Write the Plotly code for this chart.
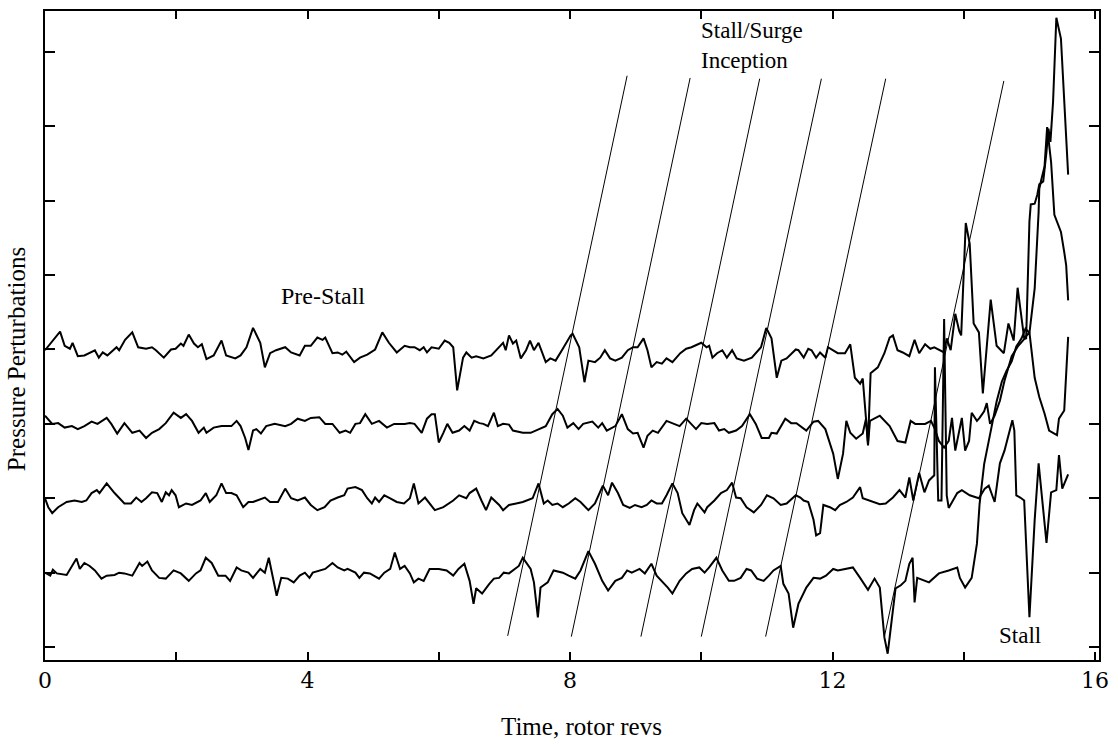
import plotly.graph_objects as go

# Pressure perturbation traces from four circumferential probes.
# Time in rotor revolutions, perturbation relative to each probe's baseline.
t_ch1 = [0.00,0.23,0.30,0.38,0.42,0.50,0.60,0.68,0.76,0.82,
         0.88,0.95,1.09,1.13,1.22,1.33,1.42,1.54,1.63,1.69,
         1.81,1.92,1.99,2.07,2.11,2.19,2.27,2.33,2.39,2.46,
         2.57,2.69,2.76,2.90,2.98,3.07,3.17,3.28,3.35,3.43,
         3.52,3.66,3.75,3.88,3.96,4.05,4.15,4.23,4.27,4.38,
         4.46,4.53,4.59,4.71,4.80,4.91,5.03,5.14,5.24,5.36,
         5.48,5.56,5.63,5.71,5.77,5.82,5.89,6.00,6.09,6.16,
         6.22,6.28,6.37,6.42,6.50,6.57,6.68,6.80,6.90,6.98,
         7.02,7.07,7.13,7.18,7.25,7.33,7.39,7.45,7.52,7.63,
         7.70,7.78,7.89,8.01,8.04,8.14,8.22,8.28,8.38,8.46,
         8.53,8.61,8.69,8.79,8.88,8.96,9.03,9.12,9.18,9.24,
         9.32,9.40,9.47,9.56,9.68,9.77,9.85,9.94,10.00,10.08,
         10.12,10.17,10.24,10.32,10.39,10.47,10.54,10.65,10.77,10.91,
         10.99,11.07,11.15,11.22,11.30,11.44,11.48,11.56,11.63,11.68,
         11.75,11.81,11.89,11.93,12.08,12.19,12.27,12.34,12.42,12.46,
         12.54,12.58,12.69,12.79,12.87,12.92,12.99,13.07,13.17,13.25,
         13.32,13.41,13.49,13.55,13.62,13.70,13.74,13.80,13.87,13.93,
         13.96,14.03,14.09,14.15,14.23,14.29,14.41,14.50,14.61,14.68,
         14.76,14.82,14.92,15.00,15.08,15.15,15.23,15.30,15.36,15.42,
         15.45,15.53,15.59]
p_ch1 = [-0.01,0.24,0.05,0.01,0.09,-0.09,-0.08,-0.04,-0.01,-0.11,
         -0.04,-0.08,0.03,-0.01,0.13,0.23,0.03,0.01,0.03,-0.01,
         -0.11,0.00,0.01,0.08,0.05,0.20,0.08,0.03,0.07,-0.13,
         -0.08,0.12,-0.08,-0.12,-0.08,0.03,0.29,0.09,-0.24,-0.05,
         -0.01,0.03,-0.04,-0.08,0.05,0.05,0.16,0.13,0.16,-0.05,
         -0.04,-0.07,-0.03,-0.17,-0.11,-0.07,0.00,0.23,0.09,-0.04,
         0.05,0.03,0.03,-0.01,0.03,-0.04,0.03,0.01,0.12,0.09,
         0.03,-0.55,-0.11,-0.04,-0.11,-0.09,-0.12,-0.08,0.01,0.09,
         -0.01,0.19,0.08,0.12,-0.12,-0.01,0.12,-0.01,0.09,-0.17,
         -0.12,-0.15,0.01,0.19,0.21,0.03,-0.44,-0.15,-0.17,-0.11,
         -0.01,-0.12,-0.15,-0.11,-0.01,0.03,0.03,0.15,-0.01,-0.24,
         -0.17,-0.19,-0.12,-0.17,-0.05,0.01,0.03,0.07,0.09,0.03,
         0.05,-0.11,-0.05,-0.01,-0.11,-0.01,-0.12,-0.15,-0.11,0.03,
         0.29,0.15,-0.38,-0.15,-0.12,0.00,-0.01,-0.11,0.01,-0.01,
         -0.11,-0.04,-0.11,0.03,-0.05,-0.05,0.07,-0.38,-0.46,-0.39,
         -1.26,-0.32,-0.24,-0.05,0.16,0.19,-0.01,-0.04,-0.09,0.13,
         -0.05,0.07,0.01,0.03,0.00,-0.04,0.15,-0.01,0.48,0.25,
         0.19,1.70,1.42,0.35,0.23,-0.59,0.67,0.05,-0.05,0.35,
         0.12,0.83,0.15,0.23,-0.38,-0.64,-0.86,-1.09,-1.12,-1.15,
         -0.93,-0.82,0.17]

t_ch2 = [0.00,0.11,0.20,0.30,0.41,0.50,0.60,0.71,0.80,0.94,
         1.01,1.10,1.21,1.33,1.44,1.54,1.63,1.74,1.84,1.96,
         2.07,2.15,2.24,2.34,2.42,2.46,2.57,2.69,2.84,2.92,
         2.98,3.05,3.10,3.17,3.22,3.29,3.37,3.50,3.66,3.75,
         3.85,3.96,4.05,4.18,4.27,4.38,4.49,4.58,4.65,4.73,
         4.80,4.88,4.98,5.09,5.21,5.32,5.48,5.56,5.63,5.74,
         5.82,5.89,5.94,6.00,6.07,6.13,6.21,6.31,6.39,6.47,
         6.54,6.62,6.68,6.75,6.84,6.90,6.98,7.07,7.13,7.28,
         7.40,7.52,7.63,7.73,7.81,7.89,7.96,8.05,8.13,8.20,
         8.34,8.43,8.49,8.56,8.69,8.79,8.88,8.96,9.03,9.12,
         9.18,9.26,9.34,9.47,9.56,9.67,9.77,9.85,9.92,10.00,
         10.09,10.20,10.27,10.35,10.42,10.53,10.62,10.74,10.83,10.92,
         11.03,11.07,11.15,11.28,11.37,11.45,11.60,11.71,11.78,11.89,
         12.01,12.08,12.16,12.21,12.27,12.36,12.46,12.51,12.54,12.57,
         12.72,12.87,12.99,13.11,13.19,13.26,13.41,13.50,13.56,13.62,
         13.70,13.77,13.82,13.87,13.93,13.97,14.02,14.08,14.12,14.20,
         14.24,14.31,14.35,14.40,14.47,14.55,14.62,14.73,14.83,14.92,
         14.95,14.97,15.00,15.02,15.08,15.12,15.15,15.21,15.23,15.26,
         15.29,15.32,15.36,15.41,15.48,15.59]
p_ch2 = [0.11,0.00,0.01,-0.05,-0.03,-0.07,-0.03,0.03,0.00,0.08,
         0.00,-0.13,0.01,-0.12,-0.09,-0.19,-0.12,-0.07,0.01,0.15,
         0.08,0.13,0.04,-0.12,-0.05,-0.12,-0.05,-0.03,-0.03,0.04,
         -0.03,-0.19,-0.35,-0.09,-0.07,-0.13,-0.03,0.00,-0.03,0.00,
         0.07,0.04,0.08,0.09,0.00,0.00,-0.12,-0.09,-0.12,0.00,
         0.01,0.13,0.00,0.04,-0.05,0.00,0.00,0.01,0.00,-0.12,
         0.07,0.13,0.13,-0.25,-0.12,0.00,-0.12,-0.09,-0.03,-0.09,
         0.04,0.01,0.00,-0.03,0.15,-0.03,0.00,-0.01,-0.09,-0.12,
         -0.12,-0.07,-0.03,0.13,0.20,0.11,-0.05,0.01,-0.07,0.00,
         0.03,-0.05,0.01,-0.09,-0.03,0.13,-0.07,-0.13,-0.12,-0.32,
         -0.16,-0.09,-0.12,0.04,0.01,-0.03,0.07,0.00,-0.07,0.01,
         0.00,0.01,-0.09,-0.07,-0.12,-0.09,-0.03,0.13,0.00,-0.19,
         -0.19,-0.12,-0.13,0.07,0.01,0.01,-0.09,0.03,0.04,-0.07,
         -0.40,-0.74,-0.40,0.04,-0.12,-0.20,-0.13,0.07,-0.29,0.04,
         0.11,-0.03,-0.23,-0.25,0.04,0.00,0.00,0.04,-0.07,-0.23,
         -0.32,-0.23,0.08,-0.36,-0.09,0.08,-0.36,-0.23,0.15,0.04,
         0.08,0.17,0.28,0.00,0.11,0.31,0.58,0.91,1.05,1.14,
         1.15,1.88,2.72,2.95,2.96,3.08,3.22,3.26,3.39,3.66,
         3.97,3.79,4.33,5.46,5.18,3.35]

t_ch3 = [0.00,0.05,0.11,0.20,0.33,0.45,0.56,0.63,0.71,0.79,
         0.83,0.94,1.06,1.21,1.31,1.39,1.47,1.54,1.63,1.71,
         1.78,1.84,1.89,1.93,1.99,2.04,2.15,2.24,2.37,2.45,
         2.51,2.61,2.69,2.76,2.84,2.92,3.02,3.10,3.17,3.35,
         3.43,3.55,3.66,3.75,3.85,3.96,4.05,4.15,4.26,4.35,
         4.46,4.56,4.61,4.73,4.83,4.91,4.98,5.03,5.09,5.17,
         5.26,5.36,5.47,5.56,5.62,5.69,5.79,5.86,5.94,6.07,
         6.22,6.31,6.42,6.47,6.57,6.65,6.72,6.80,6.92,6.98,
         7.07,7.18,7.28,7.43,7.52,7.60,7.66,7.73,7.81,7.89,
         7.98,8.08,8.16,8.28,8.38,8.50,8.58,8.64,8.73,8.81,
         8.91,8.99,9.09,9.17,9.24,9.32,9.40,9.47,9.56,9.64,
         9.71,9.82,9.89,9.94,10.05,10.09,10.20,10.30,10.39,10.47,
         10.53,10.60,10.69,10.80,10.91,11.00,11.10,11.21,11.30,11.44,
         11.51,11.56,11.63,11.71,11.75,11.81,11.86,11.96,12.04,12.11,
         12.21,12.31,12.42,12.46,12.57,12.72,12.81,12.92,13.02,13.11,
         13.17,13.23,13.32,13.40,13.47,13.55,13.56,13.61,13.66,13.70,
         13.74,13.77,13.90,13.97,14.09,14.23,14.32,14.38,14.47,14.55,
         14.62,14.70,14.74,14.77,14.80,14.86,14.92,15.00,15.08,15.14,
         15.20,15.26,15.33,15.41,15.45,15.50,15.59]
p_ch3 = [0.00,-0.12,-0.20,-0.12,-0.05,-0.03,-0.05,-0.03,0.07,0.11,
         0.07,0.20,0.07,-0.07,-0.07,0.01,-0.05,0.00,0.08,0.07,
         -0.05,0.08,0.04,0.11,0.04,-0.12,-0.07,-0.09,-0.03,0.07,
         -0.05,0.04,0.20,0.07,0.07,0.04,-0.12,-0.05,-0.05,0.01,
         -0.05,-0.05,0.13,0.00,-0.03,0.01,-0.09,-0.16,-0.12,-0.03,
         0.01,0.04,0.13,0.15,0.11,0.00,-0.07,0.01,-0.05,0.04,
         0.00,-0.05,-0.07,0.00,0.20,-0.07,0.01,-0.07,-0.16,-0.12,
         -0.03,0.04,0.00,0.07,0.13,-0.03,-0.16,0.01,-0.09,-0.16,
         -0.09,-0.07,-0.05,0.00,0.20,-0.07,-0.03,-0.09,-0.07,-0.12,
         -0.07,0.00,-0.05,-0.16,-0.07,0.17,0.04,0.21,0.07,-0.09,
         -0.13,-0.09,-0.12,-0.09,-0.03,-0.07,-0.07,0.04,0.20,0.07,
         -0.20,-0.36,-0.16,-0.07,-0.19,-0.12,-0.03,0.07,0.11,0.21,
         0.01,0.00,-0.12,-0.19,-0.09,0.04,0.00,-0.09,-0.07,0.04,
         0.01,-0.03,-0.05,-0.29,-0.50,-0.47,-0.09,-0.12,-0.16,-0.09,
         -0.05,0.01,0.15,0.00,-0.03,-0.08,-0.07,0.01,0.11,0.01,
         0.28,-0.03,0.34,0.08,0.24,0.31,1.76,-0.03,-0.03,2.41,
         0.04,-0.13,0.07,0.11,0.04,0.00,0.13,0.17,-0.05,0.47,
         0.64,0.91,1.05,0.91,0.04,0.01,-0.03,-1.60,-0.29,0.47,
         -0.03,-0.60,0.08,0.11,0.58,0.13,0.32]

t_ch4 = [0.00,0.08,0.12,0.18,0.33,0.41,0.48,0.53,0.60,0.68,
         0.76,0.86,0.94,1.06,1.13,1.21,1.33,1.44,1.48,1.56,
         1.63,1.74,1.84,1.96,2.07,2.19,2.30,2.37,2.45,2.54,
         2.64,2.75,2.82,2.92,2.99,3.10,3.17,3.28,3.35,3.41,
         3.47,3.53,3.60,3.70,3.79,3.88,3.96,4.03,4.08,4.18,
         4.27,4.38,4.46,4.56,4.61,4.73,4.79,4.86,4.95,5.09,
         5.17,5.26,5.33,5.41,5.48,5.56,5.62,5.69,5.77,5.86,
         6.00,6.12,6.22,6.30,6.39,6.47,6.53,6.57,6.66,6.77,
         6.84,6.92,6.99,7.07,7.15,7.22,7.28,7.33,7.40,7.45,
         7.51,7.55,7.66,7.75,7.89,7.98,8.08,8.16,8.28,8.38,
         8.49,8.58,8.69,8.79,8.87,8.94,9.06,9.14,9.24,9.32,
         9.40,9.49,9.56,9.67,9.77,9.86,9.97,10.05,10.12,10.23,
         10.32,10.42,10.50,10.60,10.69,10.76,10.85,10.95,11.03,11.10,
         11.21,11.25,11.33,11.40,11.48,11.60,11.71,11.81,11.90,12.01,
         12.08,12.31,12.42,12.54,12.64,12.72,12.79,12.84,12.87,12.92,
         12.96,13.04,13.11,13.17,13.22,13.25,13.29,13.47,13.62,13.77,
         13.90,13.94,14.02,14.12,14.20,14.24,14.31,14.43,14.50,14.58,
         14.65,14.73,14.80,14.88,14.94,15.00,15.08,15.14,15.15,15.18,
         15.23,15.27,15.30,15.33,15.38,15.48,15.53,15.56,15.59]
p_ch4 = [0.00,-0.04,0.04,-0.01,-0.03,0.09,0.19,0.05,0.13,0.09,
         0.03,-0.08,-0.04,-0.03,0.00,-0.01,-0.04,0.13,0.09,0.15,
         0.03,-0.07,-0.08,0.03,-0.01,-0.11,-0.01,0.03,0.20,0.13,
         -0.04,-0.04,-0.11,0.07,0.03,0.00,-0.07,0.05,0.00,0.20,
         -0.07,-0.31,-0.07,-0.08,-0.13,-0.04,0.00,-0.07,0.00,0.03,
         0.05,0.13,0.07,0.03,0.05,0.00,-0.07,0.00,-0.01,-0.08,
         0.00,0.05,0.27,0.05,0.09,-0.01,-0.13,-0.08,-0.11,0.05,
         0.05,0.03,-0.04,0.05,0.12,-0.11,-0.42,-0.21,-0.28,-0.15,
         -0.08,-0.07,0.00,-0.01,0.05,0.09,0.20,0.13,0.05,-0.13,
         -0.60,-0.20,-0.13,0.03,0.00,-0.04,-0.08,0.03,0.29,0.12,
         -0.11,-0.24,-0.11,-0.07,0.03,0.00,0.05,-0.01,0.12,-0.04,
         -0.11,-0.20,-0.28,-0.11,-0.01,0.05,0.07,0.00,0.07,0.20,
         0.03,-0.11,-0.11,-0.07,0.05,0.03,-0.08,-0.11,-0.04,0.03,
         0.09,-0.15,-0.28,-0.74,-0.42,-0.20,-0.07,-0.08,-0.04,0.05,
         0.03,0.07,-0.07,-0.23,-0.08,-0.20,-0.87,-1.09,-0.87,-0.47,
         -0.21,-0.17,-0.11,0.12,0.20,-0.40,-0.07,-0.13,-0.01,0.03,
         0.07,-0.07,-0.20,-0.07,0.39,0.92,1.46,1.99,2.30,2.57,
         2.71,2.84,3.04,3.15,3.28,3.22,3.82,4.85,5.16,5.28,
         5.46,5.99,5.70,5.52,4.81,4.58,4.31,4.13,3.66]

# Vertical stacking offset of each probe trace
offsets = [4, 3, 2, 1]

# Disturbance propagation lines (stall/surge inception)
front_t_start = [7.05, 8.02, 9.08, 10.00, 10.98, 12.79]
front_t_end = [8.87, 9.83, 10.89, 11.83, 12.81, 14.61]
front_y_start = [0.15, 0.14, 0.14, 0.14, 0.14, 0.14]
front_y_end = [7.68, 7.65, 7.64, 7.64, 7.64, 7.61]

x_ticks = [0, 2, 4, 6, 8, 10, 12, 14, 16]
x_tick_text = ["0", "", "4", "", "8", "", "12", "", "16"]
y_ticks = [0, 1, 2, 3, 4, 5, 6, 7, 8]

channels = [(t_ch1, p_ch1), (t_ch2, p_ch2), (t_ch3, p_ch3), (t_ch4, p_ch4)]

fig = go.Figure()

for (t, p), off in zip(channels, offsets):
    assert len(t) == len(p)
    fig.add_trace(go.Scatter(
        x=t, y=[off + v for v in p], mode="lines",
        line=dict(color="black", width=2), hoverinfo="skip"))

fx, fy = [], []
for t0, t1, y0, y1 in zip(front_t_start, front_t_end, front_y_start, front_y_end):
    fx += [t0, t1, None]
    fy += [y0, y1, None]
fig.add_trace(go.Scatter(x=fx, y=fy, mode="lines",
                         line=dict(color="black", width=1), hoverinfo="skip"))

SERIF = "Liberation Serif"


def label_font(size):
    return dict(family=SERIF, size=size, color="black")


fig.update_layout(
    width=1118, height=744,
    margin=dict(l=45, r=10, t=9, b=84),
    paper_bgcolor="white", plot_bgcolor="white",
    showlegend=False,
    font=label_font(22),
    xaxis=dict(
        range=[0, 16.06], tickvals=x_ticks, ticktext=x_tick_text,
        ticks="inside", ticklen=8, tickwidth=1.5, tickcolor="black",
        showline=True, linecolor="black", linewidth=1.5, mirror="ticks",
        showgrid=False, zeroline=False,
        tickfont=dict(family="DejaVu Serif", size=22, color="black"),
        ticklabelstandoff=0,
    ),
    yaxis=dict(
        range=[-0.174, 8.55], tickvals=y_ticks, showticklabels=False,
        ticks="inside", ticklen=10, tickwidth=1.5, tickcolor="black",
        showline=True, linecolor="black", linewidth=1.5, mirror="ticks",
        showgrid=False, zeroline=False,
    ),
    annotations=[
        dict(x=4.24, y=4.72, xref="x", yref="y", text="Pre-Stall",
             showarrow=False, font=label_font(24)),
        dict(x=9.97, y=8.08, xref="x", yref="y", text="Stall/Surge<br>Inception",
             showarrow=False, xanchor="left", yanchor="middle", align="left",
             font=label_font(23)),
        dict(x=14.86, y=0.15, xref="x", yref="y", text="Stall",
             showarrow=False, font=label_font(23)),
        dict(x=0.509, y=-0.103, xref="paper", yref="paper", text="Time, rotor revs",
             showarrow=False, xanchor="center", yanchor="middle", font=label_font(25)),
        dict(x=-0.0263, y=0.464, xref="paper", yref="paper", text="Pressure Perturbations",
             showarrow=False, textangle=-90, xanchor="center", yanchor="middle",
             font=label_font(25)),
    ],
)

fig.write_html("out.html")
